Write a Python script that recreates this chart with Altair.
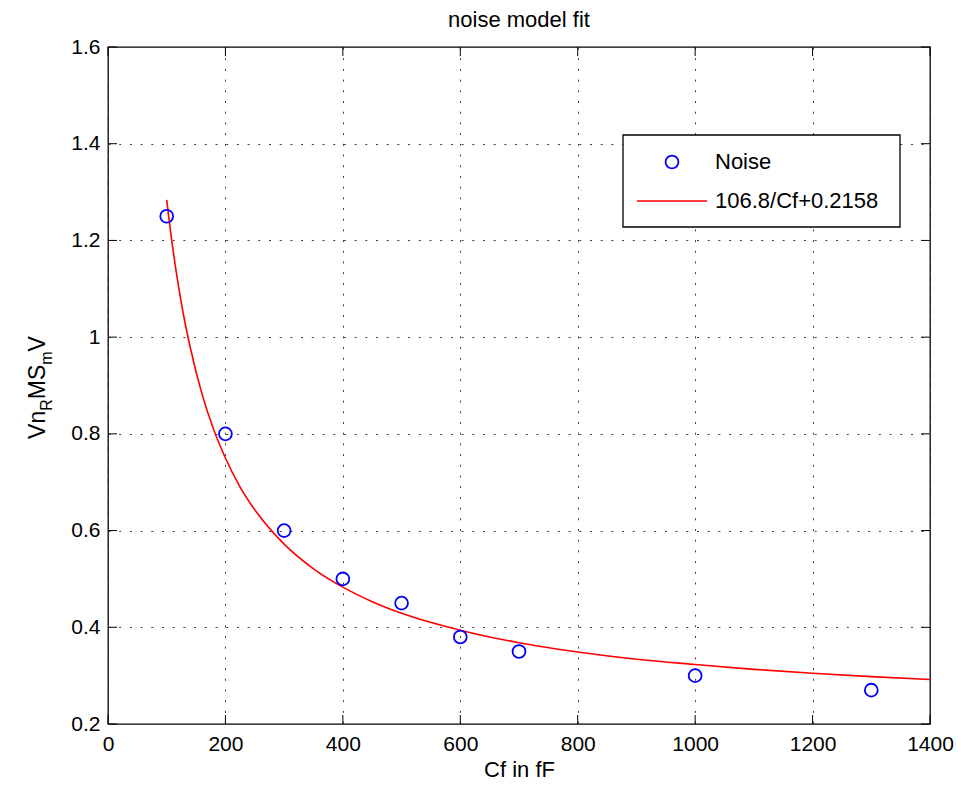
import altair as alt
import pandas as pd

# ---- data ----
fit_x = [100, 110, 120, 130, 140, 160, 180, 200, 225, 250, 300, 350, 400, 450, 500, 600, 700, 800, 900, 1000, 1100, 1200, 1300, 1400]
fit_y = [1.284, 1.187, 1.106, 1.037, 0.979, 0.883, 0.809, 0.750, 0.690, 0.643, 0.572, 0.521, 0.483, 0.453, 0.429, 0.394, 0.368, 0.349, 0.334, 0.323, 0.313, 0.305, 0.298, 0.292]
noise_x = [100, 200, 300, 400, 500, 600, 700, 1000, 1300]
noise_y = [1.25, 0.80, 0.60, 0.50, 0.45, 0.38, 0.35, 0.30, 0.27]
x_ticks = [0, 200, 400, 600, 800, 1000, 1200, 1400]
y_ticks = [0.2, 0.4, 0.6, 0.8, 1.0, 1.2, 1.4, 1.6]
legend_labels = ["Noise", "106.8/Cf+0.2158"]
title_text = "noise model fit"
x_title = "Cf in fF"
y_title_parts = [("Vn", False), ("R", True), ("MS", False), ("m", True), ("V", False)]

# ---- layout ----
W, H = 822, 677
FONT = "Liberation Sans"
TICK = 9
BLUE = "#0000ff"
RED = "#ff0000"
GRID = "#404040"

xs = alt.Scale(domain=[0, 1400], nice=False, zero=False)
ys = alt.Scale(domain=[0.2, 1.6], nice=False, zero=False)

x_axis = alt.Axis(values=x_ticks, title=x_title, grid=True, ticks=False, domain=False, format="d",
                  labelFontSize=21, labelFont=FONT, labelColor="black", labelPadding=9,
                  titleFontSize=22, titleFont=FONT, titleFontWeight="normal", titleColor="black",
                  titlePadding=5, gridColor=GRID, gridDash=[2, 8.7], gridWidth=1, labelFlush=False)
y_axis = alt.Axis(values=y_ticks, title=None, grid=True, ticks=False, domain=False,
                  labelFontSize=21, labelFont=FONT, labelColor="black", labelPadding=8,
                  format="~g", gridColor=GRID, gridDash=[2, 8.7], gridWidth=1, labelFlush=False)

fit_df = pd.DataFrame({"x": fit_x, "y": fit_y})
noise_df = pd.DataFrame({"x": noise_x, "y": noise_y})
one = pd.DataFrame({"k": [0]})

line = alt.Chart(fit_df).mark_line(color=RED, strokeWidth=1.6, interpolate="monotone").encode(
    x=alt.X("x:Q", scale=xs, axis=x_axis),
    y=alt.Y("y:Q", scale=ys, axis=y_axis),
)
points = alt.Chart(noise_df).mark_point(shape="circle", filled=False, color=BLUE, size=165, strokeWidth=1.8, opacity=1).encode(
    x=alt.X("x:Q", scale=xs),
    y=alt.Y("y:Q", scale=ys),
)

# inward ticks on all four sides
xt = pd.DataFrame({"x": x_ticks})
yt = pd.DataFrame({"y": y_ticks})
tick_b = alt.Chart(xt).mark_rule(color="black", strokeWidth=1).encode(x=alt.X("x:Q", scale=xs), y=alt.value(H), y2=alt.value(H - TICK))
tick_t = alt.Chart(xt).mark_rule(color="black", strokeWidth=1).encode(x=alt.X("x:Q", scale=xs), y=alt.value(0), y2=alt.value(TICK))
tick_l = alt.Chart(yt).mark_rule(color="black", strokeWidth=1).encode(y=alt.Y("y:Q", scale=ys), x=alt.value(0), x2=alt.value(TICK))
tick_r = alt.Chart(yt).mark_rule(color="black", strokeWidth=1).encode(y=alt.Y("y:Q", scale=ys), x=alt.value(W), x2=alt.value(W - TICK))

# legend box
lx0, lx1, ly0, ly1 = 515, 792, 88, 180
leg_box = alt.Chart(one).mark_rect(fill="white", stroke="black", strokeWidth=1.3).encode(
    x=alt.value(lx0), x2=alt.value(lx1), y=alt.value(ly0), y2=alt.value(ly1))
leg_pt = alt.Chart(one).mark_point(shape="circle", filled=False, color=BLUE, size=165, strokeWidth=1.8, opacity=1).encode(
    x=alt.value(564), y=alt.value(115))
leg_ln = alt.Chart(one).mark_rule(color=RED, strokeWidth=1.6).encode(
    x=alt.value(529), x2=alt.value(599), y=alt.value(154))
leg_t1 = alt.Chart(one).mark_text(align="left", baseline="middle", fontSize=22, font=FONT, color="black").encode(
    x=alt.value(607), y=alt.value(115), text=alt.value(legend_labels[0]))
leg_t2 = alt.Chart(one).mark_text(align="left", baseline="middle", fontSize=22, font=FONT, color="black").encode(
    x=alt.value(607), y=alt.value(154), text=alt.value(legend_labels[1]))

# y-axis title with subscripts (rotated)
widths = {"V": 0.667, "n": 0.556, "R": 0.722, "M": 0.833, "S": 0.667, "m": 0.833}
MAIN, SUB = 23, 16
base_x = -63
seg_len = [sum(widths[c] for c in s) * (SUB if sub else MAIN) for s, sub in y_title_parts]
total = sum(seg_len)
ypos = H / 2 + total / 2 + 2
ytitle_layers = []
for (s, sub), L in zip(y_title_parts, seg_len):
    ytitle_layers.append(
        alt.Chart(one).mark_text(align="left", baseline="alphabetic", angle=270,
                                 fontSize=SUB if sub else MAIN, font=FONT, color="black").encode(
            x=alt.value(base_x + (7 if sub else 0)), y=alt.value(ypos), text=alt.value(s))
    )
    ypos -= L

# chart title as text placed above the plot
title_mark = alt.Chart(one).mark_text(align="center", baseline="middle", fontSize=22, font=FONT, color="black").encode(
    x=alt.value(W / 2), y=alt.value(-27), text=alt.value(title_text))

chart = alt.layer(
    line, points, tick_b, tick_t, tick_l, tick_r, leg_box, leg_pt, leg_ln, leg_t1, leg_t2, title_mark, *ytitle_layers
).properties(
    width=W, height=H,
    autosize=alt.AutoSizeParams(type="none"),
    padding={"left": 100, "top": 39, "right": 36, "bottom": 60},
    background="white",
).configure_view(stroke="black", strokeWidth=1.3)

chart.save("out.html", embed_options={"renderer": "svg", "actions": False})
